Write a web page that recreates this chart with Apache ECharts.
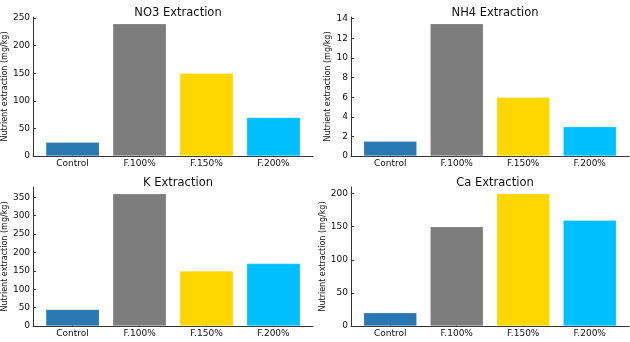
<!DOCTYPE html>
<html><head><meta charset="utf-8">
<script src="https://cdn.jsdelivr.net/npm/echarts@6/dist/echarts.min.js"></script>
<style>html,body{margin:0;padding:0;background:#fff}#c{width:630px;height:342px}</style>
</head><body><div id="c"></div>
<script>
const categories = ['Control', 'F.100%', 'F.150%', 'F.200%'];
const barColors = ['#2a77b2', '#7d7d7d', '#ffd700', '#00bfff'];
const titles = ['NO3 Extraction', 'NH4 Extraction', 'K Extraction', 'Ca Extraction'];
const no3 = [25, 240, 150, 70];
const nh4 = [1.5, 13.5, 6, 3];
const kVals = [45, 360, 150, 170];
const caVals = [20, 150, 200, 160];
const no3Ticks = [0, 50, 100, 150, 200, 250];
const nh4Ticks = [0, 2, 4, 6, 8, 10, 12, 14];
const kTicks = [0, 50, 100, 150, 200, 250, 300, 350];
const caTicks = [0, 50, 100, 150, 200];
const yName = 'Nutrient extraction (mg/kg)';

const panels = [
  {vals: no3, ticks: no3Ticks, grid: {left: 33, top: 17, width: 280, height: 139}, gap: 23},
  {vals: nh4, ticks: nh4Ticks, grid: {left: 351, top: 17, width: 278, height: 139}, gap: 19},
  {vals: kVals, ticks: kTicks, grid: {left: 33, top: 187, width: 280, height: 139}, gap: 23},
  {vals: caVals, ticks: caTicks, grid: {left: 351, top: 187, width: 278, height: 139}, gap: 23}
];
const font = 'DejaVu Sans';
const axisCol = '#333';
const option = {
  animation: false,
  title: [], grid: [], xAxis: [], yAxis: [], series: []
};
const catIdx = categories.map((c, i) => i);
panels.forEach((p, k) => {
  const ymax = Math.max(...p.vals) * 1.05;
  option.title.push({
    text: titles[k], left: p.grid.left + p.grid.width / 2, top: p.grid.top - 15, textAlign: 'center',
    textStyle: {fontFamily: font, fontSize: 11.5, fontWeight: 'normal', color: '#111'}
  });
  option.grid.push(p.grid);
  option.xAxis.push({
    type: 'value', gridIndex: k, min: -0.59, max: 3.59,
    splitLine: {show: false},
    axisLine: {show: true, onZero: false, lineStyle: {color: axisCol, width: 1}},
    axisTick: {show: true, inside: true, length: 3, customValues: catIdx, lineStyle: {color: axisCol}},
    axisLabel: {customValues: catIdx, margin: 3, fontFamily: font, fontSize: 9, color: '#111',
      formatter: v => categories[Math.round(v)]}
  });
  option.yAxis.push({
    type: 'value', gridIndex: k, min: 0, max: ymax,
    name: yName, nameLocation: 'middle', nameGap: p.gap,
    nameTextStyle: {fontFamily: font, fontSize: 8, color: '#111'},
    splitLine: {show: false},
    axisLine: {show: true, onZero: false, lineStyle: {color: axisCol, width: 1}},
    axisTick: {show: true, inside: true, length: 3, customValues: p.ticks, lineStyle: {color: axisCol}},
    axisLabel: {customValues: p.ticks, margin: 3, fontFamily: font, fontSize: 9, color: '#111'}
  });
  option.series.push({
    type: 'bar', xAxisIndex: k, yAxisIndex: k, barWidth: '80%',
    data: p.vals.map((v, i) => ({value: [i, v], itemStyle: {color: barColors[i]}})),
    itemStyle: {borderColor: 'rgba(255,255,255,0.35)', borderWidth: 0.6}
  });
});
const chart = echarts.init(document.getElementById('c'), null, {renderer: 'canvas'});
chart.setOption(option);
</script></body></html>
